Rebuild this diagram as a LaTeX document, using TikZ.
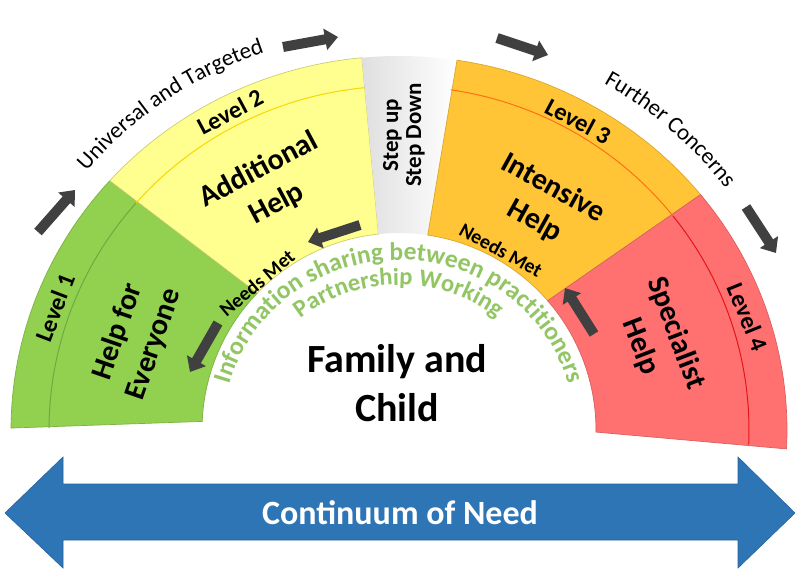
\documentclass[tikz,border=0pt]{standalone}
\usepackage{fontspec}
\setmainfont{Carlito}
\usetikzlibrary{arrows.meta,decorations.text}
\definecolor{lvgreen}{RGB}{146,208,80}
\definecolor{lvyellow}{RGB}{255,255,143}
\definecolor{lvorange}{RGB}{255,197,55}
\definecolor{lvred}{RGB}{255,113,113}
\definecolor{lngreen}{RGB}{110,170,65}
\definecolor{lnyellow}{RGB}{250,215,0}
\definecolor{lnorange}{RGB}{255,110,20}
\definecolor{lnred}{RGB}{230,20,20}
\definecolor{arrowgray}{RGB}{64,64,64}
\definecolor{needblue}{RGB}{46,117,182}
\definecolor{infogreen}{RGB}{146,198,100}
\begin{document}
\begin{tikzpicture}[x=1pt,y=1pt,
  lvtext/.style={font=\fontsize{24.5}{27}\selectfont\bfseries},
  maintext/.style={font=\fontsize{30}{38}\selectfont\bfseries, align=center},
  needs/.style={font=\fontsize{20}{22}\selectfont\bfseries},
  stepfont/.style={font=\fontsize{23}{23}\selectfont\bfseries, align=center},
  blk/.style={draw=arrowgray, line width=10pt, -{Triangle[length=13pt,width=21pt]}},
  seg/.style={line width=0.7pt},
  thin/.style={line width=1pt},
]
\useasboundingbox (0,0) rectangle (800,571);
\fill[white] (0,0) rectangle (800,571);
\begin{scope}[shift={(399,141)}]
  % segments
  \path[fill=lvgreen, draw=lvgreen!85!black, seg]
    (179.7:388 and 374) arc[start angle=179.7,end angle=138.2,x radius=388,y radius=374]
    -- (136:197) arc[start angle=136,end angle=177.5,radius=197] -- cycle;
  \path[fill=lvyellow, draw=lvyellow!80!black, seg]
    (138.2:388 and 374) arc[start angle=138.2,end angle=95.5,x radius=388,y radius=374]
    -- (96:197) arc[start angle=96,end angle=136,radius=197] -- cycle;
  \shade[left color=gray!25, right color=white]
    (95.5:388 and 374) arc[start angle=95.5,end angle=81.4,x radius=388,y radius=374]
    -- (81.6:197) arc[start angle=81.6,end angle=96,radius=197] -- cycle;
  \path[fill=lvorange, draw=lvorange!85!black, seg]
    (81.4:388 and 374) arc[start angle=81.4,end angle=39,x radius=388,y radius=374]
    -- (41:197) arc[start angle=41,end angle=81.6,radius=197] -- cycle;
  \path[fill=lvred, draw=lvred!85!black, seg]
    (39:388 and 374) arc[start angle=39,end angle=-2.9,x radius=388,y radius=374]
    -- (-0.6:197) arc[start angle=-0.6,end angle=41,radius=197] -- cycle;
  % thin inner lines
  \draw[lngreen, thin] (138.7:350 and 344) arc[start angle=138.7,end angle=179.7,x radius=350,y radius=344];
  \draw[lnyellow, thin] (138.7:350 and 344) arc[start angle=138.7,end angle=95.6,x radius=350,y radius=344];
  \draw[lnorange, thin] (81.5:350 and 344) arc[start angle=81.5,end angle=38.5,x radius=350,y radius=344];
  \draw[lnred, thin] (38.5:350 and 344) arc[start angle=38.5,end angle=-2.4,x radius=350,y radius=344];
  % curved texts
  \path[decorate, decoration={text along path, text align=center,
      text={|\fontsize{23}{25}\selectfont|Universal and Targeted}}]
    (149.5:410 and 400) arc[start angle=149.5,end angle=99.5,x radius=410,y radius=400];
  \path[decorate, decoration={text along path, text align=center,
      text={|\fontsize{23}{25}\selectfont|Further Concerns}}]
    (73.5:410 and 400) arc[start angle=73.5,end angle=23.5,x radius=410,y radius=400];
  \path[decorate, decoration={text along path, text align=center,
      text={|\fontsize{25.5}{27}\selectfont\bfseries\color{infogreen}|Information sharing between practitioners}}]
    (174:176 and 170) arc[start angle=174,end angle=6,x radius=176,y radius=170];
  \path[decorate, decoration={text along path, text align=center,
      text={|\fontsize{24.5}{26}\selectfont\bfseries\color{infogreen}|Partnership Working}}]
    (150:154 and 145) arc[start angle=150,end angle=30,x radius=154,y radius=145];
\end{scope}
% level labels
\node[lvtext, rotate=69] (l1) at (55,263) {Level 1};
\node[lvtext, rotate=28] (l2) at (230,459) {Level 2};
\node[lvtext, rotate=-28] (l3) at (578,450) {Level 3};
\node[lvtext, rotate=-68] (l4) at (748,254) {Level 4};
% main texts
\node[maintext, rotate=71] (h1) at (136,233) {Help for\\Everyone};
\node[maintext, rotate=28] (h2) at (268,384) {Additional\\Help};
\node[maintext, rotate=-29] (h3) at (544,366) {Intensive\\Help};
\node[maintext, rotate=-69] (h4) at (658,231) {Specialist\\Help};
\node[stepfont, rotate=90] (sud) at (404,436) {Step up\\Step Down};
\node[needs, rotate=40] (nm1) at (257,288) {Needs Met};
\node[needs, rotate=-29] (nm2) at (501,321) {Needs Met};
\node[font=\fontsize{40}{49}\selectfont\bfseries, align=center] (fc) at (397,188) {Family and\\Child};
% blue double arrow
\path[fill=needblue, draw=needblue!85!black, line width=0.6pt]
  (5,58) -- (63,114) -- (63,87) -- (738,87) -- (738,114) -- (795,58)
  -- (738,3) -- (738,31) -- (63,31) -- (63,3) -- cycle;
\node[font=\fontsize{34}{38}\selectfont\bfseries, text=white] (need) at (400,58) {Continuum of Need};
% dark arrows
\coordinate (a1s) at (218,248); \coordinate (a1e) at (190,199);
\coordinate (a2s) at (38,339);  \coordinate (a2e) at (75,381);
\coordinate (a3s) at (283,524); \coordinate (a3e) at (338,534);
\coordinate (a4s) at (497,533); \coordinate (a4e) at (548,516);
\coordinate (a5s) at (746,364); \coordinate (a5e) at (776,318);
\coordinate (a6s) at (360,346); \coordinate (a6e) at (308,329);
\coordinate (a7s) at (594,237); \coordinate (a7e) at (565,283);
\draw[blk] (a1s) -- (a1e);
\draw[blk] (a2s) -- (a2e);
\draw[blk] (a3s) -- (a3e);
\draw[blk] (a4s) -- (a4e);
\draw[blk] (a5s) -- (a5e);
\draw[blk] (a6s) -- (a6e);
\draw[blk] (a7s) -- (a7e);
\end{tikzpicture}
\end{document}
